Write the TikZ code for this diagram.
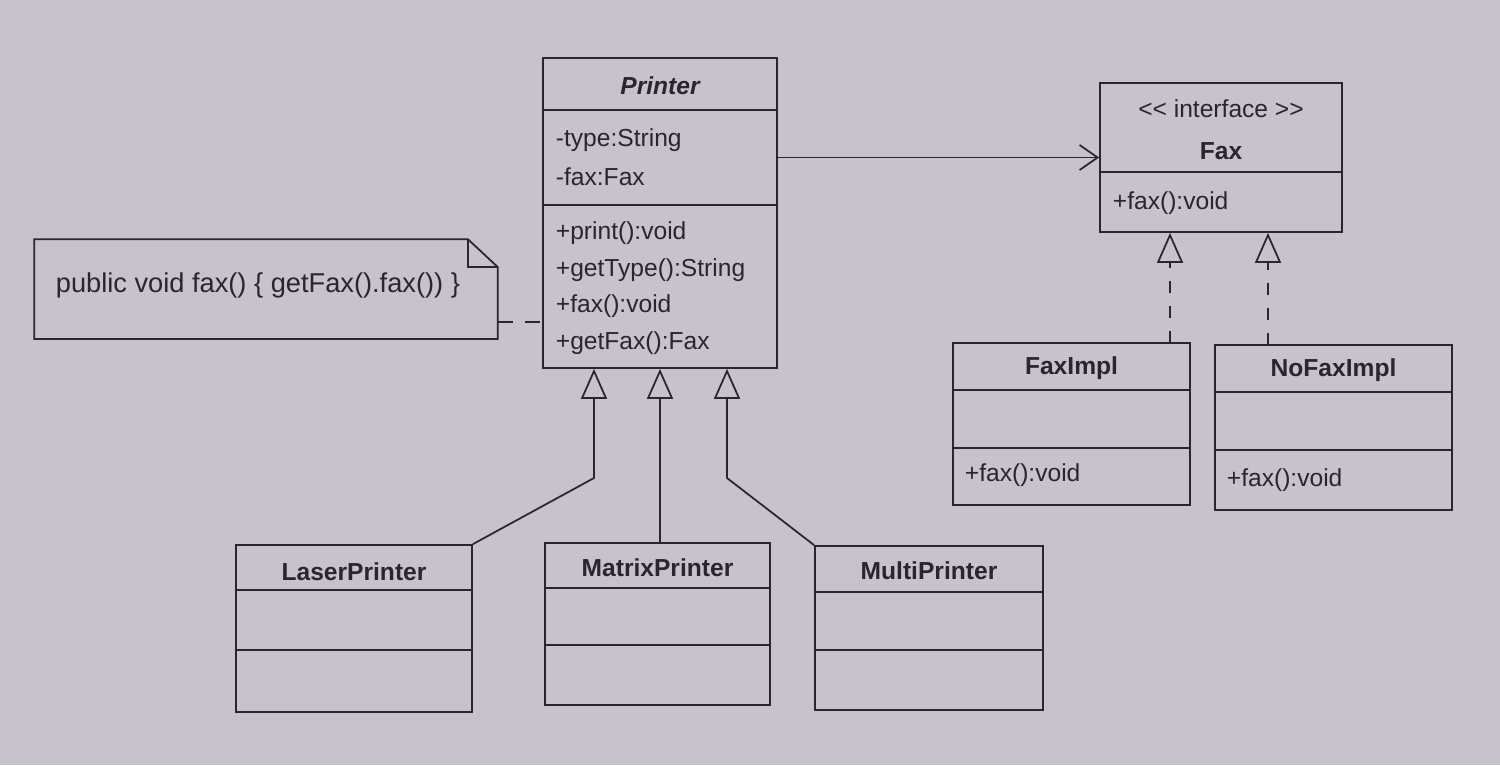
\documentclass[tikz,border=0pt]{standalone}
\usepackage{fontspec}
\setmainfont{Liberation Sans}
\usetikzlibrary{arrows.meta}
\definecolor{paper}{RGB}{199,195,205}
\definecolor{ink}{RGB}{42,38,48}

\begin{document}
\begin{tikzpicture}[x=0.02cm,y=-0.02cm,line width=1pt,
  cls/.style={draw=ink,rectangle,inner sep=0pt},
  lbl/.style={anchor=west,inner sep=0pt,text=ink,font=\fontsize{14}{16}\selectfont},
  ttl/.style={inner sep=0pt,text=ink,font=\fontsize{14}{16}\selectfont\bfseries},
  gen/.style={draw=ink,-{Triangle[open,length=0.6cm,width=0.52cm]}},
  real/.style={gen,dash pattern=on 0.24cm off 0.26cm},
  assoc/.style={draw=ink,-{Straight Barb[length=0.36cm,width=0.5cm]}}]
  \fill[paper] (0,0) rectangle (1500,765);

  % Printer
  \node (printer) at (660,213) [cls,minimum width=4.68cm,minimum height=6.2cm] {};
  \draw[ink] (printer.west |- 0,110) -- (printer.east |- 0,110);
  \draw[ink] (printer.west |- 0,205) -- (printer.east |- 0,205);
  \node (ptitle) at (660,86) [ttl,font=\fontsize{14}{16}\selectfont\bfseries\itshape] {Printer};
  \node (pa1) at (555,140) [lbl] {-type:String};
  \node (pa2) at (555,177) [lbl] {-fax:Fax};
  \node (pm1) at (555,233) [lbl] {+print():void};
  \node (pm2) at (555,270) [lbl] {+getType():String};
  \node (pm3) at (555,306) [lbl] {+fax():void};
  \node (pm4) at (555,343) [lbl] {+getFax():Fax};

  % Fax
  \node (fax) at (1221,157.5) [cls,minimum width=4.84cm,minimum height=2.98cm] {};
  \draw[ink] (fax.west |- 0,172) -- (fax.east |- 0,172);
  \node (fster) at (1221,109) [lbl,anchor=center] {<\kern0pt< interface >\kern0pt>};
  \node (ftitle) at (1221,151) [ttl] {Fax};
  \node (fm1) at (1112,203) [lbl] {+fax():void};

  % FaxImpl, NoFaxImpl
  \node (faximpl) at (1071.5,424) [cls,minimum width=4.74cm,minimum height=3.24cm] {};
  \draw[ink] (faximpl.west |- 0,390) -- (faximpl.east |- 0,390);
  \draw[ink] (faximpl.west |- 0,448) -- (faximpl.east |- 0,448);
  \node (fititle) at (1071.5,368) [ttl] {FaxImpl};
  \node (fim1) at (964,475) [lbl] {+fax():void};

  \node (nofaximpl) at (1333.5,427.5) [cls,minimum width=4.74cm,minimum height=3.3cm] {};
  \draw[ink] (nofaximpl.west |- 0,392) -- (nofaximpl.east |- 0,392);
  \draw[ink] (nofaximpl.west |- 0,450) -- (nofaximpl.east |- 0,450);
  \node (nftitle) at (1333.5,370) [ttl] {NoFaxImpl};
  \node (nfm1) at (1226,480) [lbl] {+fax():void};

  % subclasses
  \node (laser) at (354,628.5) [cls,minimum width=4.72cm,minimum height=3.34cm] {};
  \draw[ink] (laser.west |- 0,590) -- (laser.east |- 0,590);
  \draw[ink] (laser.west |- 0,650) -- (laser.east |- 0,650);
  \node (ltitle) at (354,572) [ttl] {LaserPrinter};

  \node (matrix) at (657.5,624) [cls,minimum width=4.5cm,minimum height=3.24cm] {};
  \draw[ink] (matrix.west |- 0,588) -- (matrix.east |- 0,588);
  \draw[ink] (matrix.west |- 0,645) -- (matrix.east |- 0,645);
  \node (mtitle) at (657.5,568) [ttl] {MatrixPrinter};

  \node (multi) at (929,628) [cls,minimum width=4.56cm,minimum height=3.28cm] {};
  \draw[ink] (multi.west |- 0,592) -- (multi.east |- 0,592);
  \draw[ink] (multi.west |- 0,650) -- (multi.east |- 0,650);
  \node (mutitle) at (929,571) [ttl] {MultiPrinter};

  % note
  \node (note) at (266,289) [inner sep=0pt,minimum width=9.24cm,minimum height=1.96cm] {};
  \draw[ink] (note.south west) -- (note.north west) -- ([xshift=-0.6cm]note.north east)
    -- ([yshift=-0.56cm]note.north east) -- (note.south east) -- cycle;
  \draw[ink] ([xshift=-0.6cm]note.north east) -- ([xshift=-0.6cm,yshift=-0.56cm]note.north east)
    -- ([yshift=-0.56cm]note.north east);
  \node (ntext) at (55,285) [lbl,font=\fontsize{15.5}{18}\selectfont] {public void fax() \{ getFax().fax()) \}};

  % connectors
  \coordinate (lbend) at (594,478);
  \coordinate (mbend) at (727,478);
  \draw[gen] (laser.north east) -- (lbend) -- (lbend |- printer.south);
  \draw[gen] (printer.south |- matrix.north) -- (printer.south);
  \draw[gen] (multi.north west) -- (mbend) -- (mbend |- printer.south);
  \coordinate (fi) at (1170,343);
  \coordinate (nfi) at (1268,345);
  \draw[real] (fi) -- (fi |- fax.south);
  \draw[real] (nfi) -- (nfi |- fax.south);
  \draw[assoc] (printer.east |- fax.west) -- (fax.west);
  \draw[ink,dash pattern=on 0.3cm off 0.24cm] (note.east |- 0,322) -- (printer.west |- 0,322);
\end{tikzpicture}
\end{document}
